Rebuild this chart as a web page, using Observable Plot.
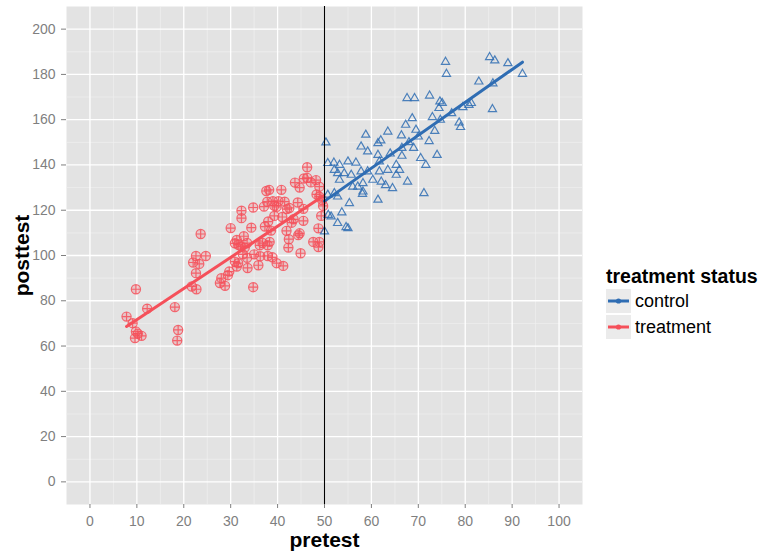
<!DOCTYPE html>
<html>
<head>
<meta charset="utf-8">
<script src="https://cdn.jsdelivr.net/npm/d3@7"></script>
<script src="https://cdn.jsdelivr.net/npm/@observablehq/plot@0.6"></script>
<style>
  html, body { margin: 0; padding: 0; background: #fff; }
  #wrap { position: relative; width: 764px; height: 554px; font-family: "Liberation Sans", Arial, sans-serif; }
  #legend { position: absolute; left: 606px; top: 265px; color: #000; }
  #legend .title { font-weight: bold; font-size: 19.5px; line-height: 23px; white-space: nowrap; }
  #legend .row { display: flex; align-items: center; height: 26px; }
  #legend .key { width: 25px; height: 24px; background: #ebebeb; margin-right: 4px; }
  #legend .lab { font-size: 18px; }
</style>
</head>
<body>
<div id="wrap"></div>
<script>
// ---- data ----
const treatPre  = [7.8, 9.1, 9.8, 9.8, 9.6, 11.0, 10.2, 12.2, 18.1, 18.8, 18.6, 21.7, 22.7, 22.6, 22.0, 22.6, 23.3, 23.6, 24.7,
  27.7, 28.0, 28.8, 29.7, 29.4, 30.0, 30.9, 31.3, 31.6, 32.2, 32.8, 33.0, 32.6, 33.5, 32.3, 32.3, 30.9, 31.6, 31.3, 33.6,
  34.4, 34.8, 34.8, 35.9, 36.2, 36.8, 37.1, 37.6, 38.2, 37.8, 37.3, 38.0, 38.6, 38.3, 37.9, 37.9, 38.9, 39.8, 41.2, 39.3,
  39.3, 39.0, 40.2, 39.8, 40.8, 41.5, 42.0, 42.5, 41.9, 42.4, 42.3, 43.4, 43.7, 44.7, 44.3, 44.7, 44.4, 44.9, 45.5, 45.5,
  46.3, 45.6, 46.3, 47.1, 48.2, 48.9, 48.3, 48.9, 48.7, 48.9, 48.7, 47.6, 49.7, 49.5, 49.3, 36.3, 33.5, 35.0, 41.0, 43.0];
const treatPost = [73.0, 70.1, 85.1, 66.4, 63.5, 64.5, 65.5, 76.5, 77.2, 67.1, 62.4, 86.3, 85.1, 92.2, 96.9, 99.8, 96.3, 109.5, 99.8,
  87.8, 90.0, 86.6, 92.9, 91.3, 112.1, 105.4, 106.9, 104.7, 104.0, 108.5, 103.5, 100.5, 99.0, 119.8, 116.5, 97.3, 96.6, 95.1, 94.5,
  112.3, 121.2, 86.0, 95.7, 104.5, 105.5, 121.6, 128.5, 129.0, 123.8, 112.8, 115.0, 111.0, 106.0, 104.5, 99.8, 99.2, 96.6, 95.4, 117.5,
  122.0, 124.0, 124.0, 121.5, 129.0, 123.8, 120.5, 121.0, 110.9, 107.2, 103.5, 116.0, 132.2, 130.0, 123.4, 109.8, 109.0, 101.0, 120.6, 115.3,
  139.0, 134.0, 134.3, 132.3, 133.3, 130.4, 127.0, 126.0, 112.0, 106.0, 103.7, 106.0, 121.9, 124.5, 117.5, 99.7, 105.5, 100.5, 117.0, 114.5];

const ctrlPre  = [50.0, 50.3, 50.8, 51.4, 53.7, 52.8, 54.6, 55.0, 50.7, 52.1, 52.8, 55.3, 56.0, 57.1, 58.2, 58.2, 60.3,
  50.7, 52.0, 53.2, 55.0, 56.7, 52.1, 52.8, 54.2, 53.2, 55.7, 57.8, 59.2, 57.8, 59.2, 61.4, 62.0, 63.5, 61.4, 61.7, 61.7,
  62.1, 63.5, 65.3, 66.0, 65.3, 64.5, 61.4, 58.1, 58.8, 66.4, 67.3, 67.7, 67.6, 68.7, 69.2, 69.5, 70.0, 69.0, 71.2, 71.6,
  72.3, 72.4, 73.0, 74.0, 74.4, 74.6, 75.1, 74.7, 75.8, 76.0, 77.1, 78.7, 79.0, 79.5, 80.8, 81.3, 82.9, 85.2, 86.3, 85.9,
  85.8, 89.1, 92.2, 66.5, 68.0, 64.0, 70.5, 73.5, 63.0, 66.5];
const ctrlPost = [110.6, 149.9, 117.9, 117.2, 119.0, 114.3, 112.5, 112.0, 126.8, 127.5, 126.0, 123.1, 130.4, 130.4, 128.2, 131.9, 133.4,
  140.8, 141.0, 140.0, 141.5, 141.0, 137.8, 136.3, 136.3, 133.4, 135.6, 137.1, 137.1, 148.1, 145.9, 149.6, 150.8, 154.7, 144.4, 141.5, 137.1,
  132.6, 137.8, 140.0, 137.8, 135.6, 129.7, 124.6, 127.2, 153.3, 153.0, 157.7, 132.6, 169.5, 160.6, 169.5, 155.5, 152.5, 147.5, 127.5, 140.0,
  150.5, 170.6, 161.1, 144.4, 165.1, 168.0, 167.3, 159.9, 185.5, 180.2, 162.8, 158.7, 156.7, 165.5, 166.5, 167.3, 176.8, 187.6, 186.1, 176.0,
  164.6, 184.9, 180.2, 144.0, 150.0, 145.0, 143.0, 155.0, 131.0, 147.5];

const groups = ["control", "treatment"];
const groupColors = ["#2f6db3", "#f5505a"];
const xTicks = [0, 10, 20, 30, 40, 50, 60, 70, 80, 90, 100];
const yTicks = [0, 20, 40, 60, 80, 100, 120, 140, 160, 180, 200];
const xMinor = [5, 15, 25, 35, 45, 55, 65, 75, 85, 95];
const yMinor = [10, 30, 50, 70, 90, 110, 130, 150, 170, 190];
const cutoff = [50];
const xTitle = "pretest";
const yTitle = "posttest";

// ---- tables built from the arrays ----
const treatData = treatPre.map((v, i) => ({pretest: v, posttest: treatPost[i], group: "treatment"}));
const ctrlData = ctrlPre.map((v, i) => ({pretest: v, posttest: ctrlPost[i], group: "control"}));

// circle with a plus inside (ggplot shape 10)
const circlePlus = {
  draw(ctx, size) {
    const r = Math.sqrt(size / Math.PI);
    ctx.moveTo(r, 0);
    ctx.arc(0, 0, r, 0, 2 * Math.PI);
    ctx.moveTo(-r, 0); ctx.lineTo(r, 0);
    ctx.moveTo(0, -r); ctx.lineTo(0, r);
  }
};

const red = groupColors[1], blue = groupColors[0];

const chart = Plot.plot({
  width: 764,
  height: 554,
  marginLeft: 66,
  marginRight: 182,
  marginTop: 6,
  marginBottom: 50,
  style: {fontFamily: "Liberation Sans, Arial, sans-serif", background: "transparent"},
  x: {domain: [-5, 105]},
  y: {domain: [-10, 210]},
  marks: [
    Plot.frame({fill: "#e3e3e3", stroke: "none"}),
    Plot.gridX(xMinor, {stroke: "#f1f1f1", strokeOpacity: 1, strokeWidth: 0.7}),
    Plot.gridY(yMinor, {stroke: "#f1f1f1", strokeOpacity: 1, strokeWidth: 0.7}),
    Plot.gridX(xTicks, {stroke: "#ffffff", strokeOpacity: 1, strokeWidth: 1.3}),
    Plot.gridY(yTicks, {stroke: "#ffffff", strokeOpacity: 1, strokeWidth: 1.3}),
    Plot.axisX(xTicks, {tickSize: 4, tickPadding: 8, fontSize: 14, color: "#7f7f7f", label: null}),
    Plot.axisY(yTicks, {tickSize: 5, tickPadding: 6, fontSize: 14, color: "#7f7f7f", label: null}),
    Plot.dot(treatData, {x: "pretest", y: "posttest", r: 4.6, symbol: circlePlus, fill: red, fillOpacity: 0.2, stroke: red, strokeOpacity: 0.85, strokeWidth: 1.2}),
    Plot.dot(ctrlData, {x: "pretest", y: "posttest", r: 3.9, symbol: "triangle2", fill: "none", stroke: blue, strokeOpacity: 0.85, strokeWidth: 1.2}),
    Plot.linearRegressionY(treatData, {x: "pretest", y: "posttest", ci: 0, stroke: red, strokeWidth: 3}),
    Plot.linearRegressionY(ctrlData, {x: "pretest", y: "posttest", ci: 0, stroke: blue, strokeWidth: 3}),
    Plot.ruleX(cutoff, {stroke: "#000", strokeWidth: 1.1}),
    Plot.text([xTitle], {frameAnchor: "bottom", textAnchor: "middle", lineAnchor: "middle", dy: 36, text: d => d, fontSize: 21, fontWeight: "bold", fill: "#000"}),
    Plot.text([yTitle], {frameAnchor: "left", textAnchor: "middle", lineAnchor: "middle", dx: -44, rotate: -90, text: d => d, fontSize: 21, fontWeight: "bold", fill: "#000"})
  ]
});

const wrap = document.getElementById("wrap");
wrap.appendChild(chart);

// ---- legend ----
const legend = document.createElement("div");
legend.id = "legend";
let html = '<div class="title">treatment status</div>';
groups.forEach((g, i) => {
  html += '<div class="row"><div class="key"><svg width="25" height="24">' +
    '<line x1="2" x2="23" y1="12" y2="12" stroke="' + groupColors[i] + '" stroke-width="3"/>' +
    '<circle cx="12.5" cy="12" r="2.6" fill="' + groupColors[i] + '"/></svg></div>' +
    '<div class="lab">' + g + '</div></div>';
});
legend.innerHTML = html;
wrap.appendChild(legend);
</script>
</body>
</html>
